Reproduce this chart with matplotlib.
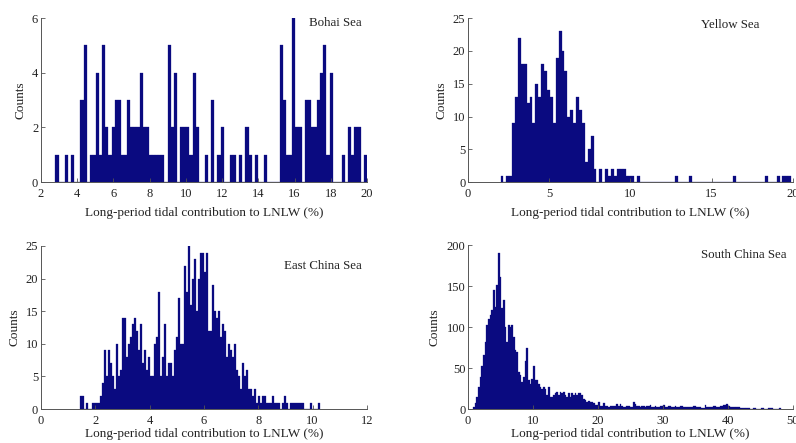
import matplotlib
matplotlib.use("Agg")
import matplotlib.pyplot as plt
import numpy as np

plt.rcParams['font.family'] = ['Liberation Serif', 'DejaVu Serif']

navy = "#0a0a80"
xlabel_text = "Long-period tidal contribution to LNLW (%)"

# Bohai Sea: 100 bins between 2.8 and 20.0
bohai_range = (2.8, 20.0)
bohai_counts = [1, 0, 0, 1, 0, 1, 0, 0, 3, 5,
                0, 1, 1, 4, 1, 5, 2, 1, 2, 3,
                3, 1, 1, 3, 2, 2, 2, 4, 2, 2,
                1, 1, 1, 1, 1, 0, 5, 2, 4, 0,
                2, 2, 2, 1, 4, 2, 0, 0, 1, 0,
                3, 0, 1, 2, 0, 0, 1, 1, 0, 1,
                0, 2, 1, 0, 1, 0, 0, 1, 0, 0,
                0, 0, 5, 3, 1, 1, 6, 2, 2, 0,
                3, 3, 2, 2, 3, 4, 5, 1, 4, 0,
                0, 0, 1, 0, 2, 1, 2, 2, 0, 1]

# Yellow Sea: 100 bins between 2.0 and 19.9
yellow_range = (2.0, 19.9)
yellow_counts = [1, 0, 1, 1, 9, 13, 22, 18, 18, 12,
                 13, 9, 15, 13, 18, 17, 14, 13, 9, 19,
                 23, 20, 17, 10, 11, 9, 13, 11, 9, 3,
                 5, 7, 2, 0, 2, 0, 2, 1, 2, 1,
                 2, 2, 2, 1, 1, 1, 0, 1, 0, 0,
                 0, 0, 0, 0, 0, 0, 0, 0, 0, 0,
                 1, 0, 0, 0, 0, 1, 0, 0, 0, 0,
                 0, 0, 0, 0, 0, 0, 0, 0, 0, 0,
                 1, 0, 0, 0, 0, 0, 0, 0, 0, 0,
                 0, 1, 0, 0, 0, 1, 0, 1, 1, 1]

# East China Sea: 120 bins between 1.437 and 10.281
east_range = (1.437, 10.281)
east_counts = [2, 2, 0, 1, 0, 0, 1, 1, 1, 1,
               2, 4, 9, 5, 9, 7, 5, 3, 10, 5,
               6, 14, 14, 8, 10, 11, 13, 14, 12, 9,
               13, 7, 9, 6, 8, 5, 5, 10, 11, 18,
               5, 8, 13, 5, 7, 7, 5, 9, 11, 17,
               10, 10, 22, 18, 25, 16, 20, 23, 15, 20,
               24, 24, 21, 24, 12, 12, 19, 15, 14, 15,
               11, 13, 12, 8, 10, 9, 8, 10, 6, 5,
               3, 7, 5, 6, 3, 3, 2, 3, 1, 2,
               1, 2, 2, 1, 1, 1, 2, 1, 1, 1,
               0, 1, 2, 1, 0, 1, 1, 1, 1, 1,
               1, 1, 0, 0, 0, 1, 0, 0, 0, 1]

# South China Sea: bins of width 0.2564 starting at 0.77
south_start = 0.77
south_width = 0.2564
south_counts = [3, 7, 15, 27, 39, 52, 66, 82, 102, 110,
                115, 121, 145, 125, 151, 190, 161, 123, 133, 100,
                82, 102, 100, 102, 88, 72, 70, 45, 41, 33,
                39, 58, 74, 35, 31, 37, 52, 35, 35, 31,
                27, 25, 27, 25, 17, 27, 15, 15, 17, 19,
                21, 17, 21, 19, 21, 17, 15, 19, 15, 19,
                17, 19, 17, 19,
                19, 17, 12, 11, 9, 10, 8, 9, 7, 5,
                5, 8, 4, 4, 7, 4, 4, 3, 4, 4,
                4, 4, 6, 4, 6, 4, 3, 3, 4, 4,
                2, 2, 8, 6, 4, 4, 3, 4, 4, 3,
                4, 4, 5, 3, 3, 4, 3, 3, 4, 4,
                5, 3, 3, 4, 4, 2, 2, 4, 3, 3,
                4, 4, 2, 2, 3, 3, 2, 2, 4, 4,
                3, 3, 2, 1, 1, 5, 2, 2, 3, 3,
                4, 4, 3, 3, 4, 4, 5, 5, 6, 4,
                2, 2, 3, 3, 2, 2, 1, 1, 1, 1,
                1, 1, 0, 0, 1, 1, 0, 0, 0, 1,
                1, 0, 0, 1, 1, 1, 0, 0, 0, 0,
                1]

fig = plt.figure(figsize=(7.96, 4.43), dpi=100)

ax1 = fig.add_axes([0.0515, 0.589, 0.4095, 0.370])
ax2 = fig.add_axes([0.588, 0.589, 0.408, 0.370])
ax3 = fig.add_axes([0.0515, 0.0767, 0.4095, 0.368])
ax4 = fig.add_axes([0.588, 0.0767, 0.408, 0.370])


def draw_hist(ax, edges, counts):
    edges = np.asarray(edges)
    ax.bar(edges[:-1], counts, width=np.diff(edges), align="edge",
           color=navy, edgecolor=navy, linewidth=0.2)


draw_hist(ax1, np.linspace(*bohai_range, len(bohai_counts) + 1), bohai_counts)
draw_hist(ax2, np.linspace(*yellow_range, len(yellow_counts) + 1), yellow_counts)
draw_hist(ax3, np.linspace(*east_range, len(east_counts) + 1), east_counts)
draw_hist(ax4, south_start + south_width * np.arange(len(south_counts) + 1), south_counts)

ax1.set_xlim(2, 20)
ax1.set_ylim(0, 6)
ax1.set_xticks(np.arange(2, 21, 2))
ax1.set_yticks([0, 2, 4, 6])

ax2.set_xlim(0, 20)
ax2.set_ylim(0, 25)
ax2.set_xticks([0, 5, 10, 15, 20])
ax2.set_yticks(np.arange(0, 26, 5))

ax3.set_xlim(0, 12)
ax3.set_ylim(0, 25)
ax3.set_xticks(np.arange(0, 13, 2))
ax3.set_yticks(np.arange(0, 26, 5))

ax4.set_xlim(0, 50)
ax4.set_ylim(0, 200)
ax4.set_xticks(np.arange(0, 51, 10))
ax4.set_yticks(np.arange(0, 201, 50))

names = [(ax1, "Bohai Sea", 0.985, 0.97, 5),
         (ax2, "Yellow Sea", 0.898, 0.957, 5),
         (ax3, "East China Sea", 0.985, 0.879, 0.5),
         (ax4, "South China Sea", 0.98, 0.94, 0.5)]

for ax, name, tx, ty, lpad in names:
    for s in ["top", "right"]:
        ax.spines[s].set_visible(False)
    for s in ["left", "bottom"]:
        ax.spines[s].set_color("#555555")
        ax.spines[s].set_linewidth(0.7)
    ax.tick_params(direction="in", length=3, width=0.6, colors="#555555",
                   labelcolor="#222222", labelsize=9, pad=2)
    ax.tick_params(axis="x", pad=4.5)
    ax.set_xlabel(xlabel_text, fontsize=9.5, color="#222222", labelpad=lpad)
    ax.set_ylabel("Counts", fontsize=9.5, color="#222222", labelpad=4)
    ax.text(tx, ty, name, transform=ax.transAxes, ha="right", va="center",
            fontsize=9.3, color="#222222")

fig.savefig("out.png", dpi=100)
